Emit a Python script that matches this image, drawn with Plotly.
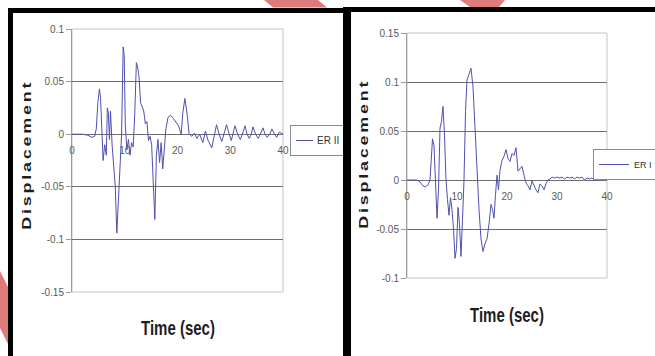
import plotly.graph_objects as go

W, H = 655, 356

# ---------------- data ----------------
series_names = ["ER II", "ER I"]

t_left = [0, 1, 2, 3, 3.8,
          4.3, 4.6, 4.9, 5.2, 5.4,
          5.7, 5.9, 6.2, 6.5, 6.7,
          6.9, 7.1, 7.3, 7.6, 7.9,
          8.2, 8.5, 8.8, 9.1, 9.4,
          9.7, 9.9, 10.1, 10.4, 10.7,
          11.0, 11.3, 11.6, 11.9, 12.2,
          12.4, 12.7, 13.0, 13.3, 13.6,
          13.9, 14.2, 14.5, 14.8, 15.1,
          15.4, 15.7, 16.0, 16.3, 16.6,
          16.9, 17.2, 17.5, 17.8, 18.2,
          18.7, 19.2, 19.7, 20.2, 20.7,
          21.0, 21.4, 21.8, 22.2, 22.7,
          23.2, 23.7, 24.2, 24.8, 25.3,
          25.8, 26.5, 27.0, 27.4, 27.9,
          28.4, 28.8, 29.3, 29.8, 30.2,
          30.5, 30.9, 31.4, 31.9, 32.3,
          32.8, 33.2, 33.6, 34.0, 34.3,
          34.8, 35.3, 35.7, 36.2, 36.6,
          37.0, 37.5, 37.9, 38.4, 38.8,
          39.3, 40]
d_left = [0, 0, 0, -0.001, -0.003,
          -0.002, 0.005, 0.03, 0.043, 0.035,
          0.0, -0.025, -0.01, -0.02, 0.025,
          0.02, -0.005, 0.022, -0.01, -0.03,
          -0.05, -0.094, -0.06, -0.02, 0.0,
          0.083, 0.075, 0.01, -0.015, -0.005,
          -0.02, -0.008, -0.012, 0.02, 0.068,
          0.065, 0.055, 0.03, 0.025, 0.022,
          0.01, 0.012, -0.006, -0.002, -0.01,
          -0.05, -0.081, -0.02, -0.005, -0.027,
          -0.008, -0.033, -0.01, 0.005, 0.016,
          0.018, 0.015, 0.012, 0.008, 0.0,
          0.02, 0.034, 0.02, 0.0, -0.002,
          0.001, -0.004, 0.0, -0.008, 0.003,
          -0.006, -0.013, 0.0, 0.009, 0.0,
          -0.007, 0.0, 0.009, 0.0, -0.006,
          0.0, 0.008, 0.0, -0.005, 0.0,
          0.008, 0.0, -0.004, 0.0, 0.007,
          0.0, -0.004, 0.0, 0.006, 0.0,
          -0.003, 0.0, 0.005, 0.0, -0.003,
          0.002, 0.0]

t_right = [0, 1, 2, 2.6, 3.2,
           3.7, 4.2, 4.6, 4.9, 5.1,
           5.4, 5.7, 6.0, 6.3, 6.6,
           6.9, 7.2, 7.5, 7.8, 8.1,
           8.4, 8.7, 9.0, 9.3, 9.6,
           9.9, 10.2, 10.5, 10.8, 11.1,
           11.4, 11.7, 12.0, 12.4, 12.8,
           13.2, 13.6, 14.0, 14.4, 14.8,
           15.2, 15.6, 16.0, 16.4, 16.8,
           17.1, 17.4, 17.7, 18.0, 18.3,
           18.6, 19.0, 19.4, 19.8, 20.2,
           20.6, 21.0, 21.4, 21.8, 22.2,
           22.6, 23.0, 23.4, 23.8, 24.2,
           24.6, 25.0, 25.4, 25.8, 26.2,
           26.6, 27.0, 27.4, 27.8, 28.2,
           28.6, 29.0, 29.5, 30, 30.5,
           31, 31.5, 32, 32.5, 33,
           33.5, 34, 34.5, 35, 35.5,
           36, 36.5, 37, 37.5, 38,
           38.5, 39, 39.5, 40]
d_right = [0, 0, 0, -0.002, -0.006,
           -0.007, -0.005, 0.0, 0.025, 0.042,
           0.035, 0.0, -0.039, -0.01, 0.053,
           0.06, 0.075, 0.045, 0.0, -0.02,
           -0.036, -0.018, -0.03, -0.05, -0.08,
           -0.07, -0.028, -0.045, -0.078, -0.04,
           0.0, 0.07, 0.102, 0.108, 0.114,
           0.095, 0.05, 0.0, -0.03, -0.06,
           -0.073, -0.065, -0.06, -0.045, -0.025,
           -0.03, -0.039, -0.015, 0.005, -0.01,
           0.01, 0.02, 0.024, 0.031, 0.022,
           0.019, 0.027, 0.025, 0.033, 0.009,
           0.012, 0.014, 0.005, -0.003, -0.006,
           -0.01, -0.001, -0.006, -0.01, -0.013,
           -0.004, -0.006, -0.01, -0.004, 0.0,
           0.001, 0.003, 0.002, 0.003, 0.002,
           0.003, 0.001, 0.003, 0.002, 0.003,
           0.001, 0.003, 0.002, 0.003, 0.0,
           0.002, 0.001, 0.002, 0.0, 0.002,
           0.0, 0.001, 0.001, 0.0]

x_range = [0, 40]
x_tickvals = [0, 10, 20, 30, 40]
x_ticktext = ["0", "10", "20", "30", "40"]
y_range_left = [-0.15, 0.1]
y_tickvals_left = [-0.15, -0.1, -0.05, 0, 0.05, 0.1]
y_ticktext_left = ["-0.15", "-0.1", "-0.05", "0", "0.05", "0.1"]
y_range_right = [-0.1, 0.15]
y_tickvals_right = [-0.1, -0.05, 0, 0.05, 0.1, 0.15]
y_ticktext_right = ["-0.1", "-0.05", "0", "0.05", "0.1", "0.15"]
x_title = "Time (sec)"
y_title = "Displacement"

# ---------------- helpers (pixel -> paper) ----------------
def px(x):
    return x / W

def py(y):
    return 1 - y / H

def zero_pos(dom, rng):
    return dom[0] + (0 - rng[0]) / (rng[1] - rng[0]) * (dom[1] - dom[0])

def path(points):
    return "M " + " L ".join(f"{px(a):.5f},{py(b):.5f}" for a, b in points) + " Z"

NARROW = "Liberation Sans Narrow, Arial Narrow, Liberation Sans, Arial, sans-serif"
TICK_FONT = dict(family=NARROW, size=10, color="#5a5a5a")
LINE_COLOR = "#5050b0"
GRID = "#6e6e6e"

xdom_l = [px(72), px(283)]
ydom_l = [py(292), py(29)]
xdom_r = [px(407), px(607)]
ydom_r = [py(278), py(33)]

fig = go.Figure()
fig.add_trace(go.Scatter(x=t_left, y=d_left, mode="lines", name=series_names[0],
                         line=dict(color=LINE_COLOR, width=1),
                         xaxis="x", yaxis="y", legend="legend"))
fig.add_trace(go.Scatter(x=t_right, y=d_right, mode="lines", name=series_names[1],
                         line=dict(color=LINE_COLOR, width=1),
                         xaxis="x2", yaxis="y2", legend="legend2"))

def xaxis(dom, ydom, yr):
    return dict(domain=dom, range=x_range, anchor="free", position=zero_pos(ydom, yr),
                tickvals=x_tickvals, ticktext=x_ticktext, showgrid=False, zeroline=False,
                showline=False, ticks="", ticklabelstandoff=9, tickfont=TICK_FONT)

def yaxis(dom, yr, tv, tt, anchor_x):
    return dict(domain=dom, range=yr, anchor=anchor_x, tickvals=tv, ticktext=tt,
                showgrid=True, gridcolor=GRID, gridwidth=1.4, zeroline=False,
                showline=True, linecolor="#9a9a9a", linewidth=1,
                ticks="outside", ticklen=5, tickcolor="#9a9a9a", tickfont=TICK_FONT)

legend_common = dict(xanchor="left", yanchor="top", bgcolor="white",
                     bordercolor="#8c8c8c", borderwidth=1, itemwidth=30)

shapes = [
    dict(type="rect", xref="x domain", yref="y domain", x0=0, x1=1, y0=0, y1=1,
         line=dict(color="#c4c4c4", width=1), layer="below"),
    dict(type="rect", xref="x2 domain", yref="y2 domain", x0=0, x1=1, y0=0, y1=1,
         line=dict(color="#c4c4c4", width=1), layer="below"),
    dict(type="rect", xref="paper", yref="paper", x0=px(8), x1=px(13), y0=py(356), y1=py(8),
         fillcolor="black", line=dict(width=0), layer="above"),
    dict(type="rect", xref="paper", yref="paper", x0=px(8), x1=px(343), y0=py(13), y1=py(8),
         fillcolor="black", line=dict(width=0), layer="above"),
    dict(type="rect", xref="paper", yref="paper", x0=px(343), x1=px(655), y0=py(12), y1=py(7),
         fillcolor="black", line=dict(width=0), layer="above"),
    dict(type="path", xref="paper", yref="paper",
         path=path([(264, 0), (318, 0), (327, 7.5), (273, 7.5)]),
         fillcolor="#e07b7b", line=dict(width=0), layer="above"),
    dict(type="path", xref="paper", yref="paper",
         path=path([(460, 0), (505, 0), (499, 7), (470, 7)]),
         fillcolor="#e07b7b", line=dict(width=0), layer="above"),
    dict(type="path", xref="paper", yref="paper",
         path=path([(0, 271), (8, 287), (8, 344), (0, 328)]),
         fillcolor="#e07b7b", line=dict(width=0), layer="above"),
]

TITLE_FONT = dict(family="Liberation Sans, Arial, sans-serif", size=13, color="#1e1e1e", weight="bold")
XT_FONT = dict(family=NARROW, size=15, color="#1e1e1e", weight="bold")

annotations = [
    dict(text=y_title, x=px(26), y=py(155), xref="paper", yref="paper", showarrow=False,
         textangle=-90, font=TITLE_FONT, xanchor="center", yanchor="middle"),
    dict(text=y_title, x=px(363), y=py(154), xref="paper", yref="paper", showarrow=False,
         textangle=-90, font=TITLE_FONT, xanchor="center", yanchor="middle"),
    dict(text=x_title, x=px(178), y=py(327), xref="paper", yref="paper", showarrow=False,
         font=XT_FONT, xanchor="center", yanchor="middle"),
    dict(text=x_title, x=px(507), y=py(314), xref="paper", yref="paper", showarrow=False,
         font=XT_FONT, xanchor="center", yanchor="middle"),
    dict(text=" ", x=px(347), y=py(181.5), xref="paper", yref="paper", showarrow=False,
         width=8, height=349, bgcolor="black", borderpad=0, borderwidth=0,
         xanchor="center", yanchor="middle", font=dict(size=1)),
]

fig.update_layout(
    width=W, height=H, margin=dict(l=0, r=0, t=0, b=0, autoexpand=False),
    paper_bgcolor="white", plot_bgcolor="white",
    xaxis=xaxis(xdom_l, ydom_l, y_range_left),
    yaxis=yaxis(ydom_l, y_range_left, y_tickvals_left, y_ticktext_left, "x"),
    xaxis2=xaxis(xdom_r, ydom_r, y_range_right),
    yaxis2=yaxis(ydom_r, y_range_right, y_tickvals_right, y_ticktext_right, "x2"),
    legend=dict(x=px(290), y=py(125), font=dict(family=NARROW, size=10, color="#333333"),
                **legend_common),
    legend2=dict(x=px(593), y=py(149), font=dict(family=NARROW, size=9, color="#333333"),
                 **legend_common),
    shapes=shapes, annotations=annotations, showlegend=True,
)

post = """
var gd = document.getElementById('{plot_id}');
function tweak() {
  gd.querySelectorAll('text.annotation-text').forEach(function(t){
    var s = t.textContent;
    if (s === 'Displacement') {
      t.style.letterSpacing = '2px';
      t.setAttribute('textLength', '150');
      t.setAttribute('lengthAdjust', 'spacingAndGlyphs');
    }
    if (s === 'Time (sec)') {
      t.style.transformBox = 'fill-box';
      t.style.transformOrigin = '50% 50%';
      t.style.transform = 'scaleY(1.3)';
    }
  });
  gd.querySelectorAll('g.legend').forEach(function(g){
    g.querySelectorAll('path.js-line').forEach(function(p){ p.setAttribute('d', 'M5,0h17'); });
    g.querySelectorAll('text.legendtext').forEach(function(t){ t.setAttribute('transform', 'translate(-14,0)'); });
    var bg = g.querySelector('rect.bg');
    if (bg) {
      if (!bg.dataset.w0) { bg.dataset.w0 = bg.getAttribute('width'); }
      bg.setAttribute('width', parseFloat(bg.dataset.w0) - 14);
    }
  });
}
tweak();
setTimeout(tweak, 50);
setTimeout(tweak, 400);
"""

fig.write_html("out.html", post_script=post)
